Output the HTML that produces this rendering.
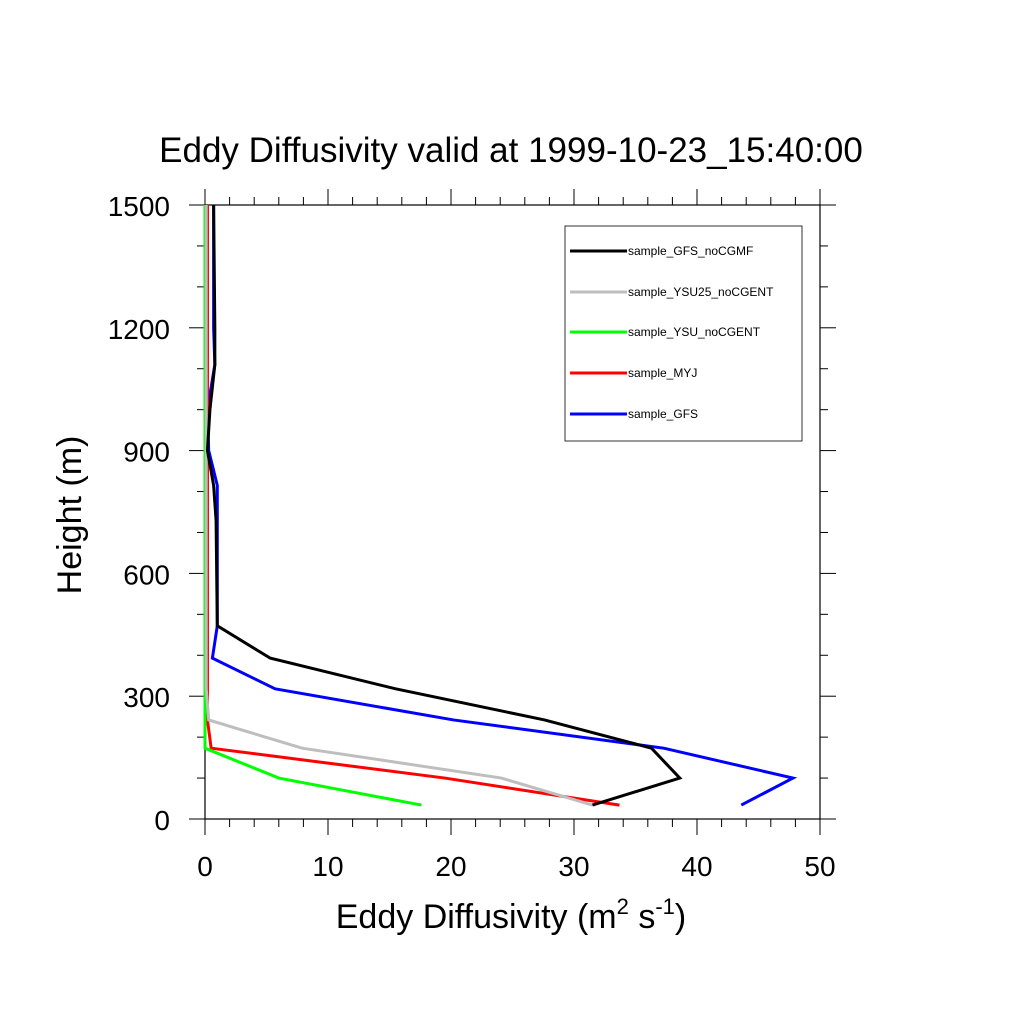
<!DOCTYPE html>
<html><head><meta charset="utf-8"><style>
body{margin:0;background:#fff}
svg{font-family:"Liberation Sans",sans-serif}
</style></head><body>
<svg id="chart" width="1024" height="1024" viewBox="0 0 1024 1024">
<rect width="1024" height="1024" fill="#fff"/>
<text x="511" y="162" font-size="35" text-anchor="middle">Eddy Diffusivity valid at 1999-10-23_15:40:00</text>
<g id="axes"></g>
<g id="series"></g>
<text x="511" y="928" font-size="34" text-anchor="middle">Eddy Diffusivity (m<tspan font-size="22" dy="-14">2</tspan><tspan dy="14"> s</tspan><tspan font-size="22" dy="-14">-1</tspan><tspan dy="14">)</tspan></text>
<text transform="translate(81,515) rotate(-90)" font-size="34" text-anchor="middle">Height (m)</text>
<g id="legend"><rect x="565" y="226" width="237" height="215" fill="#fff" stroke="#000" stroke-width="0.8"/></g>
</svg>
<script>
const heights=[34,100,173,242,318,393,472,730,815,900,1000,1110,1200,1500];
const seriesNames=["sample_GFS_noCGMF","sample_YSU25_noCGENT","sample_YSU_noCGENT","sample_MYJ","sample_GFS"];
const seriesColors=["#000","#bebebe","#00ff00","#ff0000","#0000ff"];
const gfsNoCGMF=[31.5,38.6,36.3,27.6,15.5,5.3,1.0,0.9,0.7,0.2,0.4,0.8,0.8,0.7];
const ysu25=[31.5,24.1,7.9,0.3,0.1,0.1,0.1,0.1,0.1,0.1,0.1,0.1,0.1,0.1];
const ysu=[17.6,6.0,0.0,0.0,0.0,0.0,0.0,0.0,0.0,0.0,0.0,0.0,0.0,0.0];
const myj=[33.7,19.5,0.5,0.2,0.2,0.2,0.2,0.2,0.2,0.2,0.2,0.2,0.2,0.2];
const gfs=[43.6,47.8,37.3,20.2,5.7,0.6,1.0,1.0,1.0,0.3,0.2,0.8,0.7,0.7];
const xTicks=[0,10,20,30,40,50];
const yTicks=[0,300,600,900,1200,1500];
const X0=205,X1=820,Y0=819,Y1=205;
const xs=v=>X0+(v/50)*(X1-X0);
const ys=v=>Y0-(v/1500)*(Y0-Y1);
const NS="http://www.w3.org/2000/svg";
function mk(t,a,p){const e=document.createElementNS(NS,t);for(const k in a)e.setAttribute(k,a[k]);p.appendChild(e);return e;}
const ax=document.getElementById('axes');
const frame=mk('rect',{x:X0,y:Y1,width:X1-X0,height:Y0-Y1,fill:'none',stroke:'#000','stroke-width':1.2},ax);


for(let v=0;v<=50;v+=2){const maj=v%10===0,L=maj?16:8;const x=xs(v);
 mk('line',{x1:x,y1:Y0,x2:x,y2:Y0+L,stroke:'#000','stroke-width':1},ax);
 mk('line',{x1:x,y1:Y1,x2:x,y2:Y1-L,stroke:'#000','stroke-width':1},ax);}
for(let v=0;v<=1500;v+=100){const maj=v%300===0,L=maj?16:8;const y=ys(v);
 mk('line',{x1:X0,y1:y,x2:X0-L,y2:y,stroke:'#000','stroke-width':1},ax);
 mk('line',{x1:X1,y1:y,x2:X1+L,y2:y,stroke:'#000','stroke-width':1},ax);}
xTicks.forEach(v=>{const t=mk('text',{x:xs(v),y:876,'font-size':28,'text-anchor':'middle'},ax);t.textContent=v;
 
 });
yTicks.forEach(v=>{const t=mk('text',{x:170,y:ys(v)+11,'font-size':28,'text-anchor':'end'},ax);t.textContent=v;
 
 });
const data=[gfsNoCGMF,ysu25,ysu,myj,gfs];
const sg=document.getElementById('series');
const order=[4,3,2,1,0];
order.forEach(i=>{const pts=data[i].map((v,j)=>xs(v)+','+ys(heights[j])).join(' ');
 const pl=mk('polyline',{points:pts,fill:'none',stroke:seriesColors[i],'stroke-width':3,'stroke-linejoin':'miter'},sg);
 
 });
const lg=document.getElementById('legend');
const ly=[251,292,332,373,414];
seriesNames.forEach((n,i)=>{
 const l=mk('line',{x1:570,y1:ly[i],x2:627,y2:ly[i],stroke:seriesColors[i],'stroke-width':3},lg);
 
 
 const t=mk('text',{x:628,y:ly[i]+4,'font-size':12},lg);t.textContent=n;
 
 });
</script>
</body></html>
